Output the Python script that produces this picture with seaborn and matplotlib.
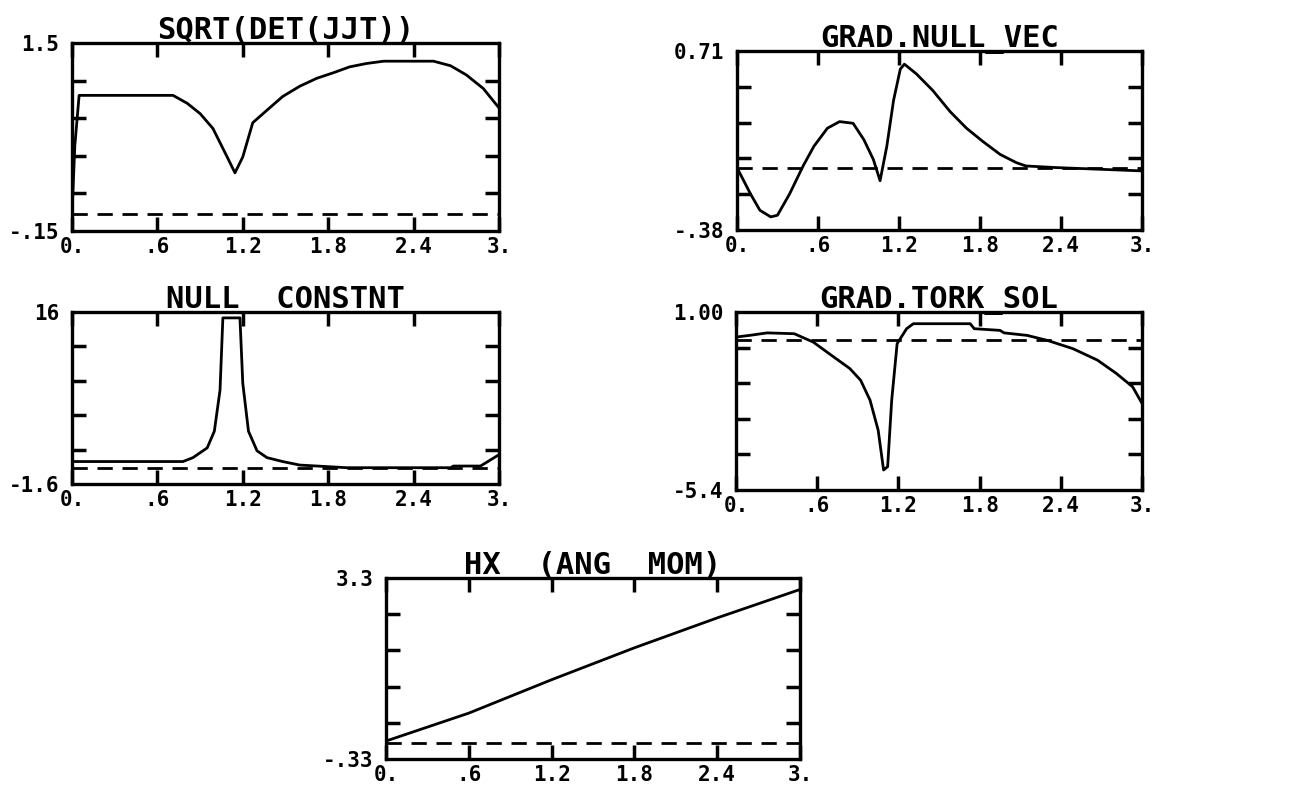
import numpy as np
import pandas as pd
import matplotlib
matplotlib.use("Agg")
import matplotlib.pyplot as plt
import seaborn as sns

det_x = [0.0, 0.02, 0.05, 0.71, 0.81, 0.90, 0.99, 1.09, 1.145, 1.20, 1.27, 1.37, 1.48,
         1.60, 1.72, 1.84, 1.95, 2.07, 2.19, 2.54, 2.66, 2.77, 2.89, 3.0]
det_y = [0.0, 0.60, 1.04, 1.04, 0.97, 0.88, 0.75, 0.50, 0.36, 0.50, 0.80, 0.91, 1.03,
         1.12, 1.19, 1.24, 1.29, 1.32, 1.34, 1.34, 1.30, 1.22, 1.10, 0.93]

nvec_x = [0.0, 0.10, 0.17, 0.25, 0.30, 0.39, 0.49, 0.57, 0.67, 0.76, 0.86, 0.94, 1.01,
          1.06, 1.11, 1.16, 1.21, 1.24, 1.33, 1.45, 1.58, 1.70, 1.82, 1.95, 2.07,
          2.14, 2.37, 3.0]
nvec_y = [0.0, -0.16, -0.26, -0.30, -0.29, -0.16, 0.01, 0.13, 0.24, 0.28, 0.27, 0.17,
          0.05, -0.08, 0.13, 0.41, 0.60, 0.63, 0.57, 0.47, 0.34, 0.24, 0.16, 0.08,
          0.03, 0.01, 0.0, -0.02]

ncon_x = [0.0, 0.78, 0.85, 0.95, 1.0, 1.04, 1.06, 1.18, 1.20, 1.24, 1.30, 1.37, 1.48,
          1.60, 1.93, 2.66, 2.68, 2.87, 3.0]
ncon_y = [0.7, 0.7, 1.1, 2.1, 3.8, 8.0, 15.4, 15.4, 8.7, 3.8, 1.8, 1.1, 0.7,
          0.34, 0.07, 0.07, 0.24, 0.24, 1.4]

tork_x = [0.0, 0.10, 0.23, 0.43, 0.57, 0.72, 0.84, 0.92, 0.99, 1.05, 1.09, 1.12, 1.15,
          1.19, 1.26, 1.31, 1.73, 1.76, 1.95, 1.98, 2.15, 2.30, 2.49, 2.67, 2.81,
          2.93, 3.0]
tork_y = [0.10, 0.16, 0.25, 0.22, -0.08, -0.61, -1.03, -1.45, -2.17, -3.25, -4.68,
          -4.56, -2.17, -0.14, 0.40, 0.58, 0.58, 0.40, 0.34, 0.25, 0.16, -0.02,
          -0.32, -0.73, -1.21, -1.69, -2.29]

hx_x = [0.0, 0.6, 1.2, 1.8, 2.4, 3.0]
hx_y = [0.03, 0.59, 1.26, 1.90, 2.50, 3.07]

titles = ["SQRT(DET(JJT))", "GRAD.NULL_VEC", "NULL  CONSTNT", "GRAD.TORK_SOL",
          "HX  (ANG  MOM)"]
ylims = [(-0.15, 1.5), (-0.38, 0.71), (-1.6, 16), (-5.4, 1.0), (-0.33, 3.3)]
ylabels = [("-.15", "1.5"), ("-.38", "0.71"), ("-1.6", "16"), ("-5.4", "1.00"),
           ("-.33", "3.3")]
xtick_vals = [0.0, 0.6, 1.2, 1.8, 2.4, 3.0]
xtick_labels = ["0.", ".6", "1.2", "1.8", "2.4", "3."]

series = [(det_x, det_y), (nvec_x, nvec_y), (ncon_x, ncon_y), (tork_x, tork_y),
          (hx_x, hx_y)]

sns.set_style("white")
plt.rcParams["font.family"] = ["DejaVu Sans Mono", "DejaVu Sans"]
plt.rcParams["font.weight"] = "bold"
plt.rcParams["text.color"] = "black"
plt.rcParams["xtick.color"] = "black"
plt.rcParams["ytick.color"] = "black"

fig = plt.figure(figsize=(13.09, 7.97), dpi=100)
boxes = [
    [0.0550, 0.7102, 0.3262, 0.2359],
    [0.5630, 0.7114, 0.3094, 0.2246],
    [0.0550, 0.3927, 0.3262, 0.2158],
    [0.5623, 0.3852, 0.3102, 0.2233],
    [0.2949, 0.0477, 0.3163, 0.2271],
]

for box, (xs, ys), title, (lo, hi), (lab_lo, lab_hi) in zip(boxes, series, titles,
                                                            ylims, ylabels):
    ax = fig.add_axes(box)
    df = pd.DataFrame({"t": xs, "v": ys})
    sns.lineplot(data=df, x="t", y="v", ax=ax, color="black", linewidth=2.0,
                 estimator=None, sort=False)
    ax.axhline(0, color="black", linewidth=2.0, dashes=(5.5, 3.5))
    ax.set_xlim(0, 3.0)
    ax.set_ylim(lo, hi)
    ax.set_xlabel("")
    ax.set_ylabel("")
    ax.set_title(title, fontsize=22, fontweight="bold", pad=3, color="black")

    # x: marks at every label (end ones sit on the frame); y: labels only at ends
    ax.set_xticks(xtick_vals)
    ax.set_xticklabels(xtick_labels, fontsize=15, fontweight="bold")
    ax.tick_params(axis="x", which="major", direction="in", length=10, width=2.5,
                   bottom=True, top=True, pad=4)
    ax.set_yticks([lo, hi])
    ax.set_yticklabels([lab_lo, lab_hi], fontsize=15, fontweight="bold")
    ax.set_yticks(np.linspace(lo, hi, 6)[1:-1], minor=True)
    ax.tick_params(axis="y", which="major", length=0, left=True, pad=9)
    ax.tick_params(axis="y", which="minor", direction="in", length=10, width=2.5,
                   left=True, right=True)
    for sp in ax.spines.values():
        sp.set_linewidth(2.4)
        sp.set_color("black")

fig.savefig("out.png", dpi=100, facecolor="white")
